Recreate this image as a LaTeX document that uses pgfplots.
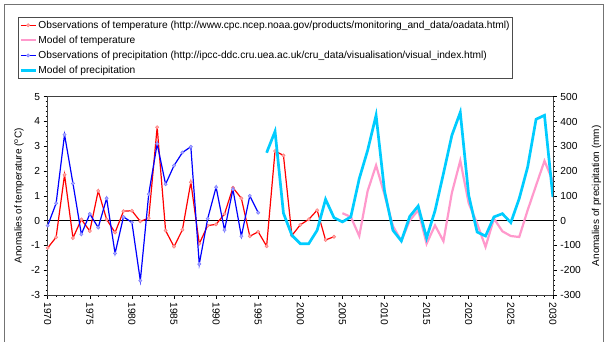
\documentclass[border=0pt]{standalone}
\usepackage{fontspec}
\setmainfont{Liberation Sans}
\usepackage{pgfplots}
\usepackage{pgfplotstable}
\pgfplotsset{compat=1.18}
\definecolor{obsT}{RGB}{255,0,0}
\definecolor{modT}{RGB}{255,153,204}
\definecolor{obsP}{RGB}{0,0,255}
\definecolor{modP}{RGB}{0,204,255}

\pgfplotstableread{
year val
1970 -1.1
1971 -0.67
1972 1.85
1973 -0.7
1974 0.05
1975 -0.42
1976 1.2
1977 0.05
1978 -0.48
1979 0.38
1980 0.4
1981 -0.03
1982 0.1
1983 3.77
1984 -0.4
1985 -1.05
1986 -0.37
1987 1.55
1988 -0.93
1989 -0.2
1990 -0.15
1991 0.27
1992 1.33
1993 0.9
1994 -0.63
1995 -0.45
1996 -1.03
1997 2.81
1998 2.63
1999 -0.6
2000 -0.17
2001 0.05
2002 0.42
2003 -0.78
2004 -0.65
}\obsT

\pgfplotstableread{
year val
2005 0.3
2006 0.15
2007 -0.62
2008 1.2
2009 2.23
2010 1.05
2011 -0.22
2012 -0.82
2013 0.01
2014 0.42
2015 -0.93
2016 -0.19
2017 -0.83
2018 1.12
2019 2.42
2020 0.7
2021 -0.12
2022 -1.06
2023 0.08
2024 -0.43
2025 -0.62
2026 -0.66
2027 0.42
2028 1.42
2029 2.41
2030 1.59
}\modT

\pgfplotstableread{
year val
1970 -20
1971 70
1972 347
1973 150
1974 -55
1975 27
1976 -28
1977 90
1978 -132
1979 15
1980 -7
1981 -242
1982 107
1983 310
1984 147
1985 222
1986 275
1987 298
1988 -175
1989 8
1990 135
1991 -38
1992 126
1993 -63
1994 100
1995 32
}\obsP

\pgfplotstableread{
year val
1996 274
1997 360
1998 30
1999 -59
2000 -93
2001 -93
2002 -39
2003 86
2004 12
2005 -5
2006 15
2007 169
2008 284
2009 425
2010 120
2011 -39
2012 -82
2013 17
2014 59
2015 -70
2016 40
2017 190
2018 344
2019 437
2020 102
2021 -46
2022 -62
2023 15
2024 28
2025 -8
2026 89
2027 216
2028 409
2029 425
2030 95
}\modP

\pgfplotsset{
  common/.style={
    at={(47.7pt,47pt)}, anchor=south west,
    scale only axis, width=505.2pt, height=198.3pt,
    xmin=1970, xmax=2030,
    tick align=outside,
    major tick length=4pt, minor tick length=2pt,
    every tick/.style={black, line width=0.5pt},
    axis line style={black!75, line width=0.6pt},
    /pgf/number format/.cd, 1000 sep={}, assume math mode=true, /pgfplots/.cd,
    tick label style={font=\fontsize{10.2}{12}\selectfont},
    label style={font=\fontsize{14.2}{16}\selectfont},
  },
  obsTstyle/.style={obsT, line width=1.2pt, mark=*, mark size=1.6pt, mark options={draw=obsT!50, fill=obsT!30, line width=0.6pt, solid}},
  obsPstyle/.style={obsP, line width=1.2pt, mark=*, mark size=1.6pt, mark options={draw=obsP!50, fill=obsP!30, line width=0.6pt, solid}},
}

\begin{document}
\begin{tikzpicture}[x=1pt,y=1pt]
\useasboundingbox (0,0) rectangle (608,342);
\draw[black!55, line width=0.8pt] (4.5,-2) -- (4.5,337.8) -- (603.8,337.8) -- (603.8,-2);

\begin{axis}[common,
  ymin=-3, ymax=5,
  xtick={1970,1975,...,2030}, minor x tick num=4,
  ytick={-3,...,5}, minor y tick num=4,
  xtick pos=bottom, ytick pos=left,
  x tick label style={rotate=-90, anchor=west},
  extra y ticks={0}, extra y tick labels={},
  extra y tick style={grid=major, major grid style={black, line width=0.6pt}, major tick length=0pt},
  ylabel={Anomalies of temperature (\textsuperscript{o}C)},
  every axis y label/.style={at={(axis description cs:-0.0568,0.5)}, rotate=90, anchor=center},
]
\addplot[obsTstyle] table[x=year,y=val] {\obsT};
\addplot[modT, line width=2.2pt, no marks] table[x=year,y=val] {\modT};
\end{axis}

\begin{axis}[common,
  ymin=-300, ymax=500,
  axis x line=none,
  axis y line*=right,
  ytick={-300,-200,...,500}, minor y tick num=4,
  ylabel={Anomalies of precipitation (mm)},
  every axis y label/.style={at={(axis description cs:1.0863,0.5)}, rotate=90, anchor=center},
  legend style={at={(axis description cs:-0.0588,1.402)}, anchor=north west,
    draw=black!70, line width=0.6pt, font=\fontsize{10.2}{12}\selectfont,
    inner xsep=1pt, inner ysep=1.5pt, row sep=2.2pt,
    nodes={inner xsep=1.5pt, inner ysep=2pt}},
  legend cell align=left,
  legend image code/.code={\draw[mark repeat=2,mark phase=2,#1] plot coordinates {(0pt,0pt) (7.5pt,0pt) (15pt,0pt)};},
]
\addlegendimage{obsTstyle}
\addlegendentry{Observations of temperature (http://www.cpc.ncep.noaa.gov/products/monitoring\_and\_data/oadata.html)}
\addlegendimage{modT, line width=2.2pt, no marks}
\addlegendentry{Model of temperature}
\addplot[obsPstyle] table[x=year,y=val] {\obsP};
\addlegendentry{Observations of precipitation (http://ipcc-ddc.cru.uea.ac.uk/cru\_data/visualisation/visual\_index.html)}
\addplot[modP, line width=2.7pt, no marks] table[x=year,y=val] {\modP};
\addlegendentry{Model of precipitation}
\end{axis}
\end{tikzpicture}
\end{document}
